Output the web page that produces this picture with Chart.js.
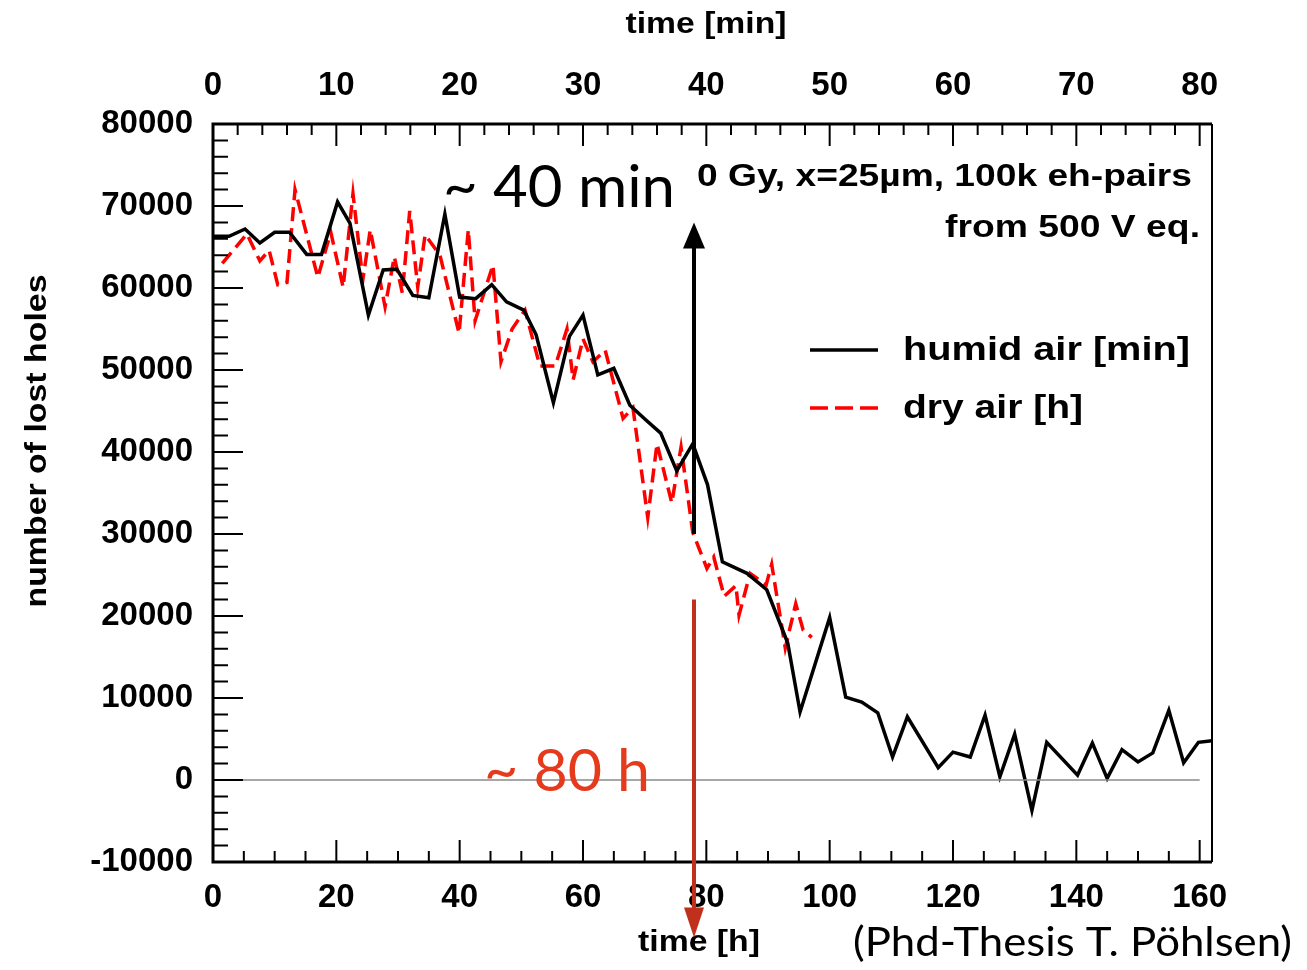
<!DOCTYPE html>
<html>
<head>
<meta charset="utf-8">
<script src="https://cdn.jsdelivr.net/npm/chart.js@4"></script>
<style>
  html, body { margin: 0; padding: 0; background: #fff; }
  canvas { display: block; }
</style>
</head>
<body>
<canvas id="lost-holes" width="1307" height="970"></canvas>
<script>
// humid air, time in minutes (top axis)
const humidMin = [0, 1.3, 2.6, 3.8, 5.0, 6.2, 7.6, 8.8, 10.1, 11.1, 12.6, 13.8, 14.9, 16.2, 17.5, 18.8,
  20.0, 21.3, 22.6, 23.8, 25.2, 26.2, 27.6, 28.9, 30.0, 31.2, 32.5, 33.8, 35.1, 36.3, 37.6, 38.9,
  40.1, 41.3, 43.3, 44.9, 46.6, 47.6, 50.0, 51.3, 52.6, 53.9, 55.1, 56.3, 58.8, 60.0, 61.4, 62.6,
  63.8, 65.0, 66.4, 67.6, 70.1, 71.3, 72.5, 73.7, 75.0, 76.2, 77.5, 78.7, 79.9, 81.0];
const humidHoles = [66300, 66300, 67200, 65500, 66800, 66800, 64100, 64100, 70500, 67900, 56700, 62200, 62300, 59100, 58800, 69000,
  58900, 58700, 60400, 58300, 57300, 54300, 46000, 54100, 56700, 49400, 50200, 45700, 43900, 42300, 37700, 41000,
  36000, 26600, 25200, 23200, 16700, 8300, 19800, 10100, 9500, 8200, 2800, 7700, 1500, 3400, 2800, 7900,
  400, 5600, -3700, 4600, 600, 4500, 200, 3700, 2200, 3300, 8500, 2100, 4600, 4800];

// dry air, time in hours (bottom axis)
const dryHours = [1.5, 5.5, 7.6, 9.1, 10.5, 12.0, 13.3, 17.0, 19.1, 21.1, 22.7, 24.3, 25.5, 27.9, 29.4, 30.7,
  31.9, 33.2, 34.4, 36.8, 39.9, 41.4, 42.5, 45.4, 46.7, 48.5, 50.6, 53.0, 55.5, 57.4, 58.4, 60.0,
  61.6, 63.6, 66.5, 68.1, 70.5, 72.0, 74.4, 75.9, 77.8, 80.1, 81.2, 82.9, 84.8, 85.3, 87.1, 89.7,
  90.6, 92.8, 94.5, 95.7, 97.1];
const dryHoles = [63000, 66600, 63300, 64600, 60400, 60700, 72000, 61300, 66800, 60100, 71500, 61000, 67100, 57700, 63800, 59400,
  69400, 60100, 66500, 64000, 54500, 67100, 56000, 62800, 51000, 55000, 57300, 50500, 50500, 55000, 48800, 53800,
  51000, 52400, 44100, 45400, 32000, 41000, 33800, 40600, 30200, 25800, 27200, 22400, 23700, 20100, 25200, 23800,
  26300, 16100, 21500, 18300, 17400];

const seriesNames = ['humid air [min]', 'dry air [h]'];
const yTicks = [80000, 70000, 60000, 50000, 40000, 30000, 20000, 10000, 0, -10000];
const hourTicks = [0, 20, 40, 60, 80, 100, 120, 140, 160];
const minuteTicks = [0, 10, 20, 30, 40, 50, 60, 70, 80];

const BOLD = 'Liberation Sans';
const PLAIN = 'Lato';
const AREA = { left: 213, right: 1212, top: 124, bottom: 862 };

// draw text squeezed/stretched horizontally to a given width
function fitText(ctx, text, x, y, width, align, angle) {
  const w = ctx.measureText(text).width;
  ctx.save();
  ctx.translate(x, y);
  if (angle) ctx.rotate(angle);
  ctx.scale(width / w, 1);
  ctx.textAlign = align;
  ctx.fillText(text, 0, 0);
  ctx.restore();
}

// ROOT style inward ticks + frame + zero line
const frameTicks = {
  id: 'frameTicks',
  afterDatasetsDraw(chart) {
    const { ctx, chartArea: a, scales } = chart;
    ctx.save();
    const y0 = scales.y.getPixelForValue(0);
    ctx.strokeStyle = '#8a8a8a';
    ctx.lineWidth = 1.5;
    ctx.beginPath();
    ctx.moveTo(a.left, y0);
    ctx.lineTo(scales.x.getPixelForValue(160), y0);
    ctx.stroke();

    ctx.strokeStyle = '#000';
    ctx.lineWidth = 2;
    ctx.beginPath();
    for (let v = -10000; v <= 80000; v += 2000) {
      const py = scales.y.getPixelForValue(v);
      const len = v % 10000 === 0 ? 30 : 15;
      ctx.moveTo(a.left, py);
      ctx.lineTo(a.left + len, py);
    }
    for (let v = 0; v <= 160; v += 5) {
      const px = scales.x.getPixelForValue(v);
      const len = v % 20 === 0 ? 22 : 11;
      ctx.moveTo(px, a.bottom);
      ctx.lineTo(px, a.bottom - len);
    }
    for (let v = 0; v <= 80; v += 2) {
      const px = scales.xMin.getPixelForValue(v);
      const len = v % 10 === 0 ? 22 : 11;
      ctx.moveTo(px, a.top);
      ctx.lineTo(px, a.top + len);
    }
    ctx.stroke();

    // frame
    ctx.lineWidth = 3;
    ctx.beginPath();
    ctx.moveTo(a.right, a.top);
    ctx.lineTo(a.left, a.top);
    ctx.lineTo(a.left, a.bottom);
    ctx.lineTo(a.right, a.bottom);
    ctx.stroke();
    ctx.lineWidth = 2;
    ctx.beginPath();
    ctx.moveTo(a.right, a.top);
    ctx.lineTo(a.right, a.bottom);
    ctx.stroke();
    ctx.restore();
  }
};

function arrow(ctx, x, yFrom, yTip, color, width, headW, headH) {
  const dir = yTip < yFrom ? 1 : -1;
  ctx.strokeStyle = color;
  ctx.fillStyle = color;
  ctx.lineWidth = width;
  ctx.beginPath();
  ctx.moveTo(x, yFrom);
  ctx.lineTo(x, yTip + dir * headH * 0.8);
  ctx.stroke();
  ctx.beginPath();
  ctx.moveTo(x, yTip);
  ctx.lineTo(x - headW / 2, yTip + dir * headH);
  ctx.lineTo(x + headW / 2, yTip + dir * headH);
  ctx.closePath();
  ctx.fill();
}

// axis titles, legend, header text and the two time arrows
const notes = {
  id: 'notes',
  afterDraw(chart) {
    const { ctx, scales } = chart;
    const x = scales.x, y = scales.y;
    ctx.save();
    ctx.fillStyle = '#000';
    ctx.textBaseline = 'middle';

    ctx.font = `bold 30px "${BOLD}"`;
    fitText(ctx, 'time [min]', 706, 25, 161, 'center');
    fitText(ctx, 'time [h]', 699, 943, 122, 'center');
    ctx.font = `bold 29px "${BOLD}"`;
    fitText(ctx, 'number of lost holes', 38, 441, 333, 'center', -Math.PI / 2);

    ctx.font = `bold 31px "${BOLD}"`;
    fitText(ctx, '0 Gy, x=25µm, 100k eh-pairs', 1192, 177, 495, 'right');
    fitText(ctx, 'from 500 V eq.', 1200, 228, 255, 'right');

    // legend entries
    ctx.lineWidth = 3.5;
    ctx.strokeStyle = '#000';
    ctx.beginPath();
    ctx.moveTo(810, 350);
    ctx.lineTo(878, 350);
    ctx.stroke();
    ctx.strokeStyle = '#ff0000';
    ctx.setLineDash([18, 7]);
    ctx.beginPath();
    ctx.moveTo(810, 408);
    ctx.lineTo(878, 408);
    ctx.stroke();
    ctx.setLineDash([]);
    ctx.font = `bold 33px "${BOLD}"`;
    fitText(ctx, seriesNames[0], 903, 351, 287, 'left');
    fitText(ctx, seriesNames[1], 903, 409, 180, 'left');

    // arrows at ~78 h
    const ax = x.getPixelForValue(78);
    arrow(ctx, ax, y.getPixelForValue(30000), y.getPixelForValue(68000), '#000', 4, 22, 26);
    arrow(ctx, ax, y.getPixelForValue(22000), y.getPixelForValue(-19200), '#c0301c', 4, 20, 30);

    ctx.font = `58px "${PLAIN}"`;
    ctx.fillStyle = '#000';
    fitText(ctx, '~ 40 min', 675, 188, 232, 'right');
    ctx.fillStyle = '#e63a1c';
    fitText(ctx, '~ 80 h', 650, 772, 166, 'right');

    ctx.fillStyle = '#000';
    ctx.font = `40px "${PLAIN}"`;
    fitText(ctx, '(Phd-Thesis T. Pöhlsen)', 1292, 943, 439, 'right');
    ctx.restore();
  }
};

const tickFont = { family: BOLD, size: 33, weight: 'bold' };

new Chart(document.getElementById('lost-holes'), {
  type: 'scatter',
  data: {
    datasets: [
      {
        label: seriesNames[0],
        xAxisID: 'xMin',
        data: humidMin.map((m, i) => ({ x: m, y: humidHoles[i] })),
        showLine: true,
        borderColor: '#000',
        borderWidth: 3.5,
        pointRadius: 0,
        tension: 0
      },
      {
        label: seriesNames[1],
        xAxisID: 'x',
        data: dryHours.map((h, i) => ({ x: h, y: dryHoles[i] })),
        showLine: true,
        borderColor: '#ff0000',
        borderWidth: 3.5,
        borderDash: [14, 7],
        pointRadius: 0,
        tension: 0
      }
    ]
  },
  options: {
    responsive: false,
    animation: false,
    layout: { padding: { left: 0, right: 1307 - AREA.right, top: 0, bottom: 0 } },
    plugins: { legend: { display: false }, tooltip: { enabled: false } },
    scales: {
      x: {
        type: 'linear', position: 'bottom', min: 0, max: 162,
        grid: { display: false, drawTicks: false },
        border: { display: false },
        afterBuildTicks(s) { s.ticks = hourTicks.map(v => ({ value: v })); },
        ticks: { autoSkip: false, maxRotation: 0, color: '#000', font: tickFont, padding: 16 },
        afterFit(s) { s.height = 970 - AREA.bottom; }
      },
      xMin: {
        type: 'linear', position: 'top', min: 0, max: 81,
        grid: { display: false, drawTicks: false },
        border: { display: false },
        afterBuildTicks(s) { s.ticks = minuteTicks.map(v => ({ value: v })); },
        ticks: { autoSkip: false, maxRotation: 0, color: '#000', font: tickFont, padding: 18 },
        afterFit(s) { s.height = AREA.top; }
      },
      y: {
        type: 'linear', position: 'left', min: -10000, max: 80000,
        grid: { display: false, drawTicks: false },
        border: { display: false },
        afterBuildTicks(s) { s.ticks = yTicks.map(v => ({ value: v })); },
        ticks: { autoSkip: false, color: '#000', font: tickFont, padding: 20, callback: v => String(v) },
        afterFit(s) { s.width = AREA.left; }
      }
    }
  },
  plugins: [frameTicks, notes]
});
</script>
</body>
</html>
